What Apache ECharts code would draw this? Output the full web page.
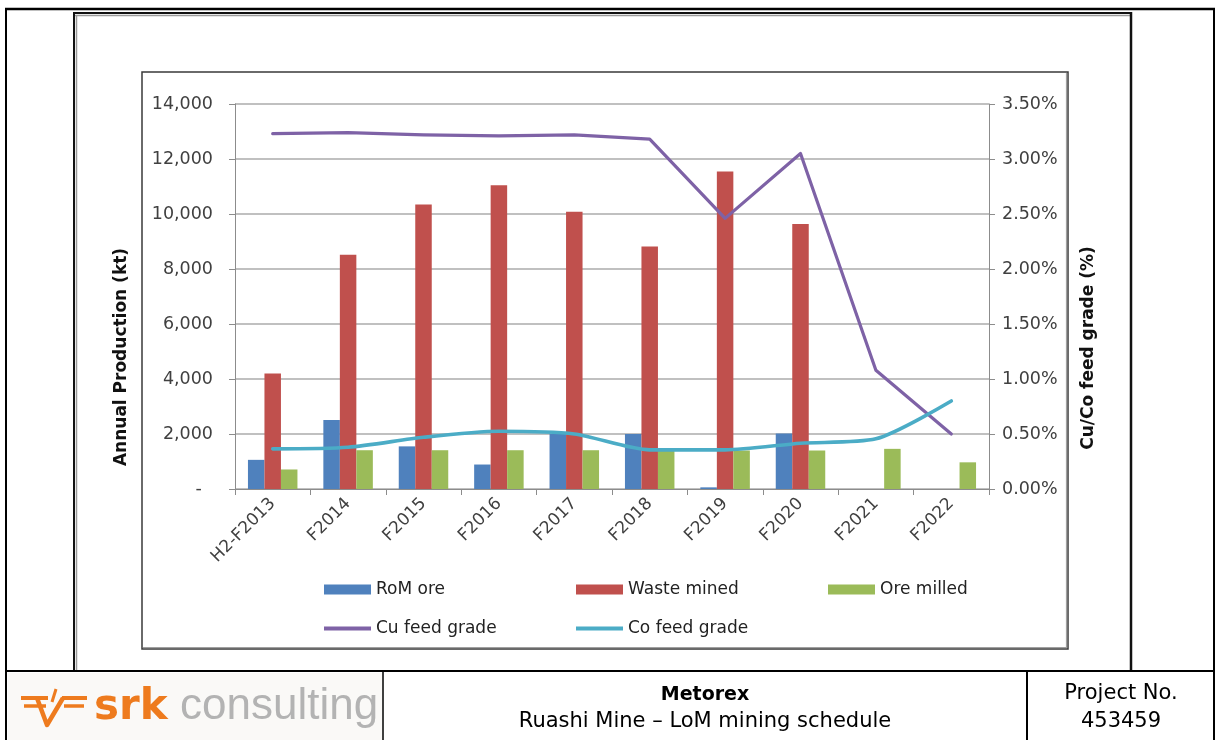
<!DOCTYPE html>
<html>
<head>
<meta charset="utf-8">
<title>Ruashi Mine – LoM mining schedule</title>
<script src="https://cdn.jsdelivr.net/npm/echarts@6/dist/echarts.min.js"></script>
<style>
  html, body { margin: 0; padding: 0; background: #ffffff; }
  #chart { width: 1216px; height: 740px; }
</style>
</head>
<body>
<div id="chart"></div>
<script>
// Life-of-mine schedule by financial year
const categories = ['H2-F2013', 'F2014', 'F2015', 'F2016', 'F2017', 'F2018', 'F2019', 'F2020', 'F2021', 'F2022'];

// Annual production (kt)
const romOre     = [1060, 2510, 1550, 890, 2000, 2000, 60, 2020, 0, 0];
const wasteMined = [4200, 8520, 10350, 11050, 10080, 8820, 11550, 9640, 0, 0];
const oreMilled  = [710, 1410, 1410, 1410, 1410, 1400, 1400, 1400, 1460, 970];

// Feed grades (%)
const cuFeedGrade = [3.23, 3.24, 3.22, 3.21, 3.22, 3.18, 2.46, 3.05, 1.08, 0.50];
const coFeedGrade = [0.365, 0.38, 0.47, 0.525, 0.50, 0.356, 0.356, 0.416, 0.456, 0.80];

// Axis ranges
const productionAxis = { min: 0, max: 14000, step: 2000 };
const gradeAxis = { min: 0, max: 3.5, step: 0.5 };

const FONT = 'DejaVu Sans';
const AXIS_GREY = '#8c8c8c';
const LABEL_GREY = '#404040';

const COLORS = {
  rom: '#4F81BD',
  waste: '#C0504D',
  milled: '#9BBB59',
  cu: '#7E62A6',
  co: '#4BACC6'
};

function legendItem(name, left, top, itemHeight) {
  return {
    data: [name],
    left: left,
    top: top,
    padding: 0,
    itemGap: 0,
    itemWidth: 47,
    itemHeight: itemHeight,
    icon: 'rect',
    selectedMode: false,
    textStyle: { fontFamily: FONT, fontSize: 17, color: '#222222' }
  };
}

function hLine(x1, x2, y, w, color) {
  return { type: 'line', shape: { x1: x1, y1: y, x2: x2, y2: y }, style: { stroke: color, lineWidth: w }, silent: true };
}
function vLine(x, y1, y2, w, color) {
  return { type: 'line', shape: { x1: x, y1: y1, x2: x, y2: y2 }, style: { stroke: color, lineWidth: w }, silent: true };
}

const ORANGE = '#EE7B1E';

const graphics = [
  // logo cell background
  { type: 'rect', shape: { x: 8, y: 673, width: 374, height: 67 }, style: { fill: '#faf9f7' }, silent: true },

  // page frame
  hLine(5, 1215, 9, 2.5, '#000'),
  vLine(6, 8, 740, 2, '#000'),
  vLine(1214, 8, 740, 2, '#000'),

  // document frame around the figure
  hLine(73, 1132, 13, 2, '#111'),
  hLine(75, 1130, 15.5, 1.5, '#9a9a9a'),
  vLine(74, 12, 671, 2, '#111'),
  vLine(76.5, 15, 671, 1.5, '#9a9a9a'),
  vLine(1131, 12, 671, 2.5, '#111'),

  // chart box
  { type: 'rect', shape: { x: 142, y: 72, width: 926, height: 577 },
    style: { fill: 'none', stroke: '#3a3a3a', lineWidth: 1.5 }, silent: true },
  hLine(143, 1067, 647.5, 1.2, '#a0a0a0'),
  vLine(1066.5, 73, 648, 1.2, '#a0a0a0'),

  // caption table
  hLine(6, 1214, 671, 2, '#000'),
  vLine(383, 671, 740, 1.5, '#000'),
  vLine(1027, 671, 740, 2, '#000'),

  // axis titles
  { type: 'text', x: 122, y: 357, rotation: Math.PI / 2,
    style: { text: 'Annual Production (kt)', fontFamily: FONT, fontWeight: 'bold', fontSize: 17,
             fill: '#111', align: 'center', verticalAlign: 'middle' } },
  { type: 'text', x: 1089, y: 348, rotation: Math.PI / 2,
    style: { text: 'Cu/Co feed grade (%)', fontFamily: FONT, fontWeight: 'bold', fontSize: 17,
             fill: '#111', align: 'center', verticalAlign: 'middle' } },

  // caption text
  { type: 'text', x: 705, y: 695,
    style: { text: 'Metorex', fontFamily: FONT, fontWeight: 'bold', fontSize: 19, fill: '#000',
             align: 'center', verticalAlign: 'middle' } },
  { type: 'text', x: 705, y: 722,
    style: { text: 'Ruashi Mine – LoM mining schedule', fontFamily: FONT, fontSize: 21, fill: '#000',
             align: 'center', verticalAlign: 'middle' } },
  { type: 'text', x: 1121, y: 694,
    style: { text: 'Project No.', fontFamily: FONT, fontSize: 21, fill: '#000',
             align: 'center', verticalAlign: 'middle' } },
  { type: 'text', x: 1121, y: 722,
    style: { text: '453459', fontFamily: FONT, fontSize: 21, fill: '#000',
             align: 'center', verticalAlign: 'middle' } },

  // company logo: emblem
  { type: 'polyline', shape: { points: [[21, 698], [48, 698]] }, style: { stroke: ORANGE, lineWidth: 4 }, silent: true },
  { type: 'polyline', shape: { points: [[24, 706], [46, 706]] }, style: { stroke: ORANGE, lineWidth: 3.5 }, silent: true },
  { type: 'polyline', shape: { points: [[62, 698], [87, 698]] }, style: { stroke: ORANGE, lineWidth: 4 }, silent: true },
  { type: 'polyline', shape: { points: [[64, 706], [84, 706]] }, style: { stroke: ORANGE, lineWidth: 3.5 }, silent: true },
  { type: 'polyline', shape: { points: [[37, 698], [47, 725], [63, 698]] },
    style: { stroke: ORANGE, lineWidth: 4.5, lineJoin: 'round', fill: null }, silent: true },
  { type: 'polyline', shape: { points: [[52, 702], [56, 689]] }, style: { stroke: ORANGE, lineWidth: 3 }, silent: true },

  // company logo: wordmark
  { type: 'text', x: 94, y: 708,
    style: { text: 'srk', fontFamily: FONT, fontWeight: 'bold', fontSize: 42, fill: ORANGE,
             align: 'left', verticalAlign: 'middle' } },
  { type: 'text', x: 180, y: 707,
    style: { text: 'consulting', fontFamily: 'Liberation Sans', fontSize: 44, fill: '#b3b3b3',
             align: 'left', verticalAlign: 'middle' } }
];

const chart = echarts.init(document.getElementById('chart'), null, { renderer: 'canvas' });

const option = {
  animation: false,
  backgroundColor: '#ffffff',
  textStyle: { fontFamily: FONT },
  grid: { left: 235, right: 227, top: 104, bottom: 251, outerBoundsMode: 'none', containLabel: false },
  legend: [
    legendItem('RoM ore', 324, 581, 10),
    legendItem('Waste mined', 576, 581, 10),
    legendItem('Ore milled', 828, 581, 10),
    legendItem('Cu feed grade', 324, 620, 4),
    legendItem('Co feed grade', 576, 620, 4)
  ],
  xAxis: {
    type: 'category',
    data: categories,
    boundaryGap: true,
    axisLine: { show: true, lineStyle: { color: AXIS_GREY, width: 1 } },
    axisTick: { show: true, alignWithLabel: false, length: 6, lineStyle: { color: AXIS_GREY } },
    axisLabel: { rotate: 45, interval: 0, margin: 12, fontFamily: FONT, fontSize: 17, color: LABEL_GREY },
    splitLine: { show: false }
  },
  yAxis: [
    {
      type: 'value',
      position: 'left',
      min: productionAxis.min,
      max: productionAxis.max,
      interval: productionAxis.step,
      axisLine: { show: true, lineStyle: { color: AXIS_GREY, width: 1 } },
      axisTick: { show: true, length: 6, lineStyle: { color: AXIS_GREY } },
      axisLabel: {
        margin: 22,
        fontFamily: FONT, fontSize: 17.5, color: LABEL_GREY,
        formatter: v => v === 0 ? '-  ' : v.toLocaleString('en-US')
      },
      splitLine: { show: true, lineStyle: { color: '#ababab', width: 1.5 } }
    },
    {
      type: 'value',
      position: 'right',
      min: gradeAxis.min,
      max: gradeAxis.max,
      interval: gradeAxis.step,
      axisLine: { show: true, lineStyle: { color: AXIS_GREY, width: 1 } },
      axisTick: { show: true, length: 6, lineStyle: { color: AXIS_GREY } },
      axisLabel: {
        margin: 13,
        fontFamily: FONT, fontSize: 17.5, color: LABEL_GREY,
        formatter: v => v.toFixed(2) + '%'
      },
      splitLine: { show: false }
    }
  ],
  series: [
    { name: 'RoM ore', type: 'bar', yAxisIndex: 0, data: romOre, barWidth: 16.5, barGap: '0%',
      itemStyle: { color: COLORS.rom } },
    { name: 'Waste mined', type: 'bar', yAxisIndex: 0, data: wasteMined, barWidth: 16.5, barGap: '0%',
      itemStyle: { color: COLORS.waste } },
    { name: 'Ore milled', type: 'bar', yAxisIndex: 0, data: oreMilled, barWidth: 16.5, barGap: '0%',
      itemStyle: { color: COLORS.milled } },
    { name: 'Cu feed grade', type: 'line', yAxisIndex: 1, data: cuFeedGrade, symbol: 'none',
      lineStyle: { color: COLORS.cu, width: 3.2, join: 'round', cap: 'round' },
      itemStyle: { color: COLORS.cu }, z: 5 },
    { name: 'Co feed grade', type: 'line', yAxisIndex: 1, data: coFeedGrade, symbol: 'none', smooth: 0.25,
      lineStyle: { color: COLORS.co, width: 3.6, join: 'round', cap: 'round' },
      itemStyle: { color: COLORS.co }, z: 5 }
  ],
  graphic: graphics
};

chart.setOption(option);
</script>
</body>
</html>
